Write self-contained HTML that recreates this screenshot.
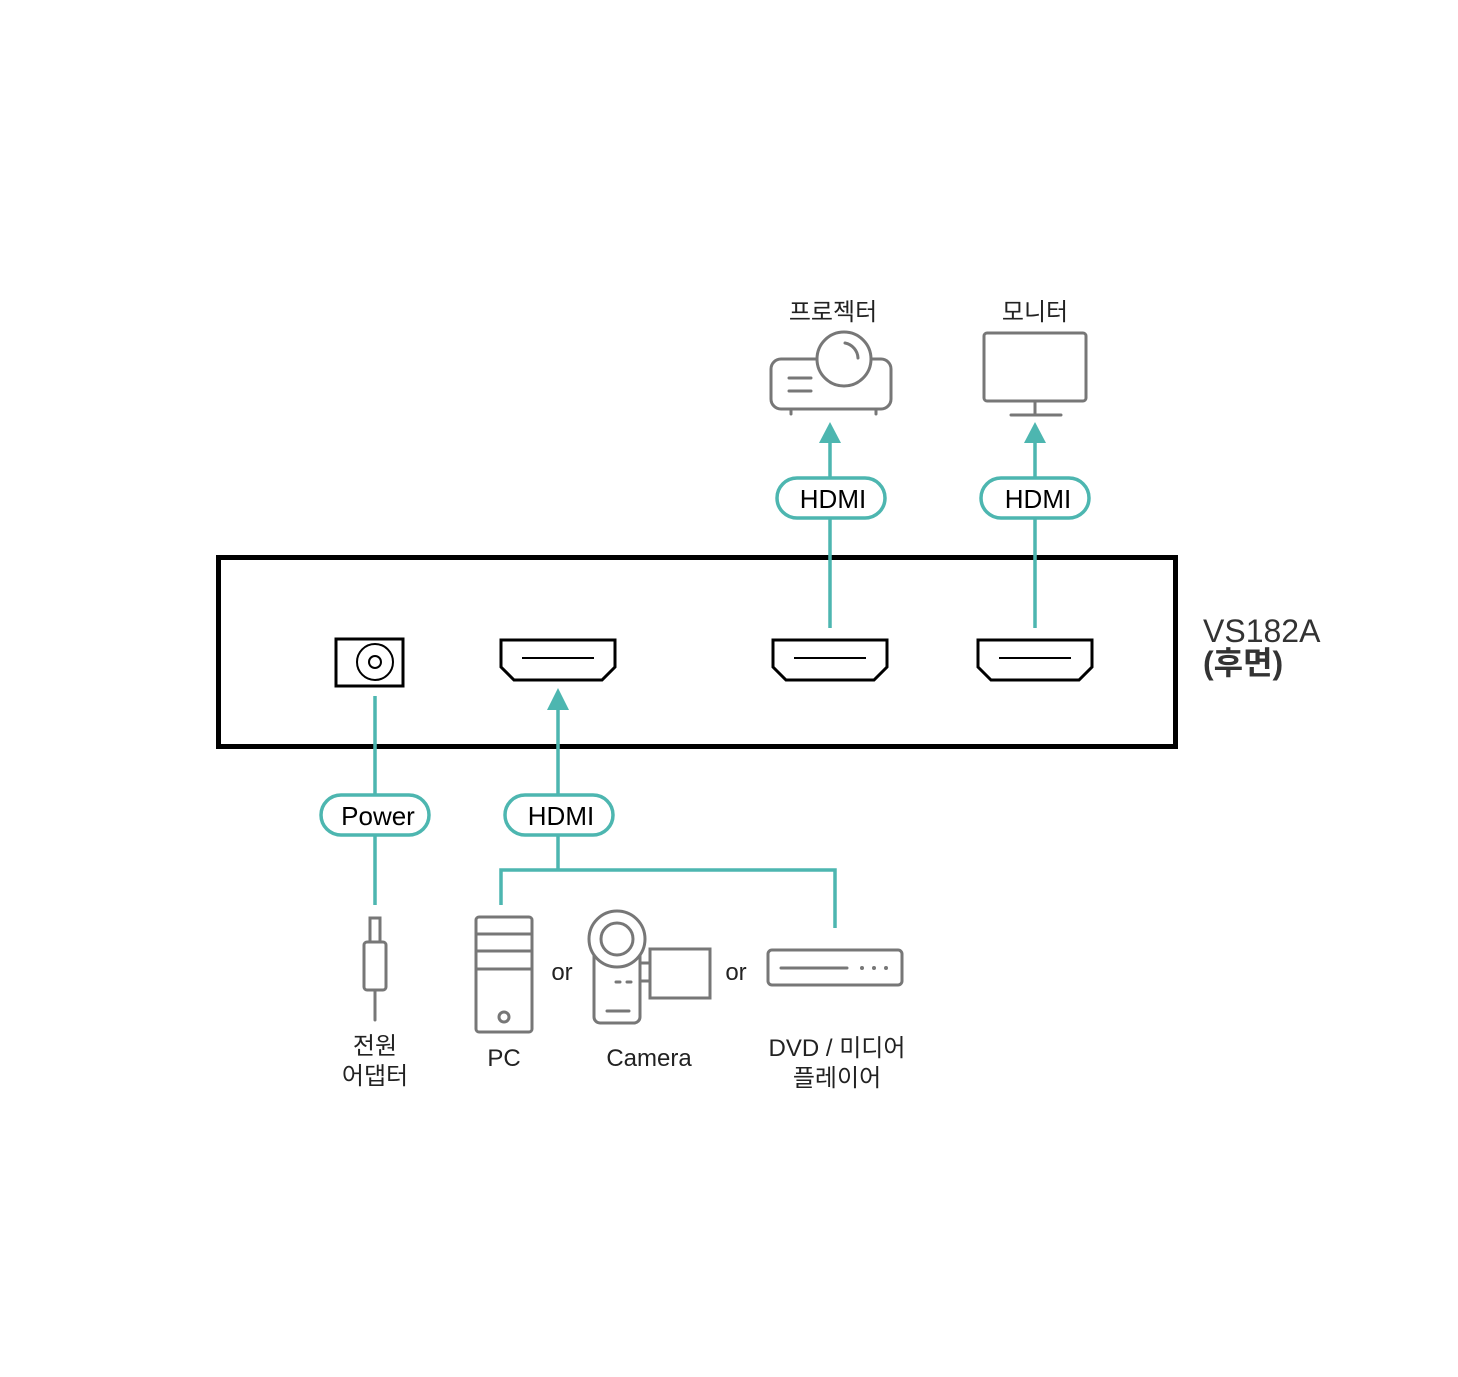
<!DOCTYPE html>
<html><head><meta charset="utf-8"><style>
html,body{margin:0;padding:0;background:#fff;}
svg{display:block;}
text{font-family:"Liberation Sans","Noto Sans CJK KR",sans-serif;}
</style></head><body>
<svg width="1458" height="1377" viewBox="0 0 1458 1377" xmlns="http://www.w3.org/2000/svg">
<rect width="1458" height="1377" fill="#fff"/>
<!-- main box -->
<rect x="218.5" y="557.5" width="957" height="189" fill="none" stroke="#000" stroke-width="5"/>
<!-- power jack -->
<rect x="336" y="639" width="67" height="47" fill="none" stroke="#000" stroke-width="3"/>
<circle cx="375" cy="662" r="18" fill="none" stroke="#000" stroke-width="2"/>
<circle cx="375" cy="662" r="6" fill="none" stroke="#000" stroke-width="2"/>
<!-- hdmi ports -->
<g fill="none" stroke="#000" stroke-width="3" stroke-linejoin="miter">
<path d="M501,640 H615 V667 L602,680 H514 L501,667 Z"/>
<line x1="522" y1="658" x2="594" y2="658" stroke-width="2"/>
<path d="M773,640 H887 V667 L874,680 H786 L773,667 Z"/>
<line x1="794" y1="658" x2="866" y2="658" stroke-width="2"/>
<path d="M978,640 H1092 V667 L1079,680 H991 L978,667 Z"/>
<line x1="999" y1="658" x2="1071" y2="658" stroke-width="2"/>
</g>
<!-- teal connectors -->
<g stroke="#4db6b0" stroke-width="3.5" fill="none">
<line x1="830" y1="628" x2="830" y2="442"/>
<line x1="1035" y1="628" x2="1035" y2="442"/>
<line x1="558" y1="708" x2="558" y2="870"/>
<polyline points="501,905 501,870 835,870 835,928"/>
<line x1="375" y1="696" x2="375" y2="905"/>
</g>
<g fill="#4db6b0">
<polygon points="830,422 819,443 841,443"/>
<polygon points="1035,422 1024,443 1046,443"/>
<polygon points="558,688 547,710 569,710"/>
</g>
<!-- pills -->
<g fill="#fff" stroke="#4db6b0" stroke-width="3.5">
<rect x="777" y="478" width="108" height="40" rx="20"/>
<rect x="981" y="478" width="108" height="40" rx="20"/>
<rect x="505" y="795" width="108" height="40" rx="20"/>
<rect x="321" y="795" width="108" height="40" rx="20"/>
</g>
<g font-size="26" fill="#000" text-anchor="middle">
<text x="833" y="508">HDMI</text>
<text x="1038" y="508">HDMI</text>
<text x="561" y="825">HDMI</text>
<text x="378" y="825">Power</text>
</g>
<!-- gray icons -->
<g fill="none" stroke="#777" stroke-width="3" stroke-linecap="round">
<!-- projector -->
<rect x="771" y="359" width="120" height="50" rx="10"/>
<circle cx="844" cy="359" r="27" fill="#fff"/>
<path d="M845,343 A16,16 0 0 1 858,358"/>
<line x1="789" y1="378" x2="811" y2="378"/>
<line x1="789" y1="391" x2="811" y2="391"/>
<line x1="791" y1="409" x2="791" y2="414"/>
<line x1="876" y1="409" x2="876" y2="414"/>
<!-- monitor -->
<rect x="984" y="333" width="102" height="68" rx="3"/>
<line x1="1035" y1="401" x2="1035" y2="415"/>
<line x1="1011" y1="415" x2="1061" y2="415"/>
<!-- plug -->
<rect x="370" y="918" width="10" height="24"/>
<rect x="364" y="942" width="22" height="48" rx="3"/>
<line x1="375" y1="990" x2="375" y2="1020"/>
<!-- PC -->
<rect x="476" y="917" width="56" height="115" rx="3"/>
<line x1="476" y1="934" x2="532" y2="934"/>
<line x1="476" y1="951" x2="532" y2="951"/>
<line x1="476" y1="969" x2="532" y2="969"/>
<circle cx="504" cy="1017" r="5"/>
<!-- camera -->
<rect x="594" y="945" width="46" height="78" rx="6"/>
<circle cx="617" cy="939" r="28" fill="#fff"/>
<circle cx="617" cy="939" r="16"/>
<line x1="616" y1="982" x2="620" y2="982"/>
<line x1="627" y1="982" x2="631" y2="982"/>
<line x1="607" y1="1011" x2="629" y2="1011"/>
<rect x="640" y="963" width="10" height="18"/>
<rect x="650" y="949" width="60" height="49"/>
<!-- DVD -->
<rect x="768" y="950" width="134" height="35" rx="4"/>
<line x1="781" y1="968" x2="847" y2="968"/>
<line x1="862" y1="968" x2="862" y2="968" stroke-width="4"/>
<line x1="874" y1="968" x2="874" y2="968" stroke-width="4"/>
<line x1="886" y1="968" x2="886" y2="968" stroke-width="4"/>
</g>
<!-- labels -->
<g font-size="24" fill="#222" text-anchor="middle">
<text x="833" y="320">프로젝터</text>
<text x="1035" y="320">모니터</text>
<text x="375" y="1054">전원</text>
<text x="375" y="1084">어댑터</text>
<text x="504" y="1066">PC</text>
<text x="649" y="1066">Camera</text>
<text x="837" y="1056">DVD / 미디어</text>
<text x="837" y="1086">플레이어</text>
<text x="562" y="980">or</text>
<text x="736" y="980">or</text>
</g>
<g font-size="32" fill="#333">
<text x="1203" y="642">VS182A</text>
<text x="1203" y="674" font-weight="bold">(후면)</text>
</g>
</svg>
</body></html>
